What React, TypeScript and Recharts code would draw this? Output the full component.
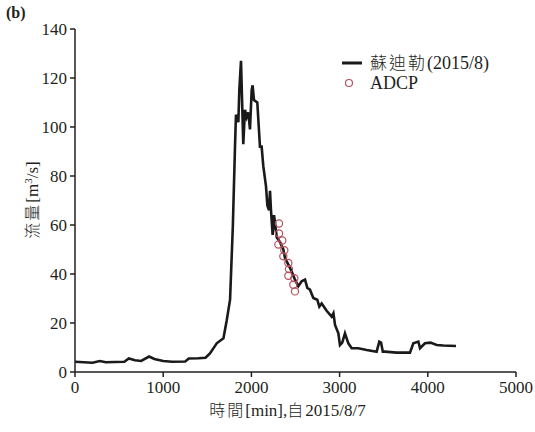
import { ComposedChart, Line, Scatter, XAxis, YAxis, Label } from 'recharts';

// 蘇迪勒 flow record (minutes since 2015/8/7, m3/s)
const flowMinutes = [
  0, 100, 200, 280, 350, 450, 560, 610, 680, 750, 840, 900, 1000, 1100, 1250, 1290, 1400, 1480,
  1530, 1607, 1683, 1720, 1758, 1790, 1814, 1825, 1852, 1863, 1882, 1901, 1908, 1927, 1946, 1965,
  1984, 2003, 2014, 2029, 2067, 2097, 2116, 2135, 2165, 2181, 2200, 2211, 2222, 2241, 2256, 2268,
  2287, 2324, 2362, 2381, 2419, 2457, 2494, 2532, 2570, 2608, 2634, 2664, 2702, 2747, 2770, 2797,
  2853, 2910, 2930, 2948, 2986, 3004, 3030, 3061, 3099, 3137, 3212, 3307, 3420, 3450, 3470, 3490,
  3515, 3647, 3798, 3836, 3893, 3912, 3968, 4030, 4101, 4176, 4320,
];
const flowValues = [
  4.2, 4.0, 3.8, 4.5, 4.0, 4.1, 4.2, 5.5, 4.8, 4.5, 6.3, 5.3, 4.5, 4.2, 4.3, 5.5, 5.6, 5.8,
  7.6, 11.7, 13.8, 21, 29.5, 60, 92, 105, 102, 115, 127, 102, 93, 107, 104, 106,
  99, 115, 117, 111, 110, 92, 92, 84, 76, 68, 66, 74, 66, 56, 64, 61,
  55, 53, 50, 46.5, 43.8, 41, 37.7, 35, 37, 37.7, 34.3, 33.6, 30.2, 29.5, 26.7, 28,
  25, 22.6, 24, 19.2, 15.8, 11, 12, 15.8, 11.7, 9.7, 9.7, 9, 8.3, 12.4, 12, 8.3,
  8.3, 7.9, 7.9, 11.7, 12.4, 9.7, 11.7, 12, 11, 10.8, 10.6,
];

// ADCP measurements
const adcpMinutes = [2313, 2313, 2350, 2306, 2373, 2362, 2419, 2426, 2419, 2487, 2475, 2494];
const adcpValues = [60.6, 56.5, 53.7, 52, 49.7, 47.2, 44.5, 42, 39.3, 38.3, 35.6, 32.9];

const xTicks = [0, 1000, 2000, 3000, 4000, 5000];
const yTicks = [0, 20, 40, 60, 80, 100, 120, 140];

const flowData = flowMinutes.map((t, i) => ({ t, q: flowValues[i] }));
const adcpData = adcpMinutes.map((t, i) => ({ t, q: adcpValues[i] }));

const SERIF = '"Liberation Serif", serif';
const CJK = '"Noto Sans CJK TC"';
const INK = '#231f20';
const ADCP_COLOR = '#b5505a';

const tickStyle = { fontFamily: SERIF, fontSize: 17, fill: INK };
const cjkSpan = { fontFamily: CJK, fontWeight: 300, letterSpacing: 2 };

function XTitle(props: any) {
  const { viewBox } = props;
  return (
    <text x={viewBox.x + viewBox.width / 2 - 8} y={416} textAnchor="middle" fontSize={17} fill={INK} style={{ fontFamily: SERIF }}>
      <tspan style={cjkSpan} fontSize={16}>時間</tspan>
      <tspan>[min],</tspan>
      <tspan style={cjkSpan} fontSize={16}>自</tspan>
      <tspan>2015/8/7</tspan>
    </text>
  );
}

function YTitle() {
  return (
    <text transform="translate(38,200) rotate(-90)" textAnchor="middle" fontSize={17} fill={INK} style={{ fontFamily: SERIF }}>
      <tspan style={cjkSpan} fontSize={16}>流量</tspan>
      <tspan>[m</tspan>
      <tspan baselineShift="super" fontSize={11}>3</tspan>
      <tspan>/s]</tspan>
    </text>
  );
}

export default function App() {
  return (
    <div style={{ position: 'absolute', left: 0, top: 0, width: 535, height: 432, background: '#fff', fontFamily: SERIF }}>
      <ComposedChart width={535} height={432} margin={{ top: 29, right: 19, left: 0, bottom: 0 }}>
        <XAxis
          xAxisId="b"
          dataKey="t"
          type="number"
          domain={[0, 5000]}
          ticks={xTicks}
          tick={tickStyle}
          tickSize={5}
          tickMargin={4}
          height={60}
          stroke={INK}
          strokeWidth={1.5}
          allowDataOverflow
        >
          <Label content={<XTitle />} />
        </XAxis>
        <XAxis xAxisId="top" orientation="top" type="number" domain={[0, 5000]} tick={false} tickLine={false} height={0} stroke={INK} strokeWidth={1.5} />
        <YAxis
          yAxisId="l"
          type="number"
          domain={[0, 140]}
          ticks={yTicks}
          tick={tickStyle}
          tickSize={5}
          tickMargin={3}
          width={75}
          stroke={INK}
          strokeWidth={1.5}
        >
          <Label content={<YTitle />} />
        </YAxis>
        <YAxis yAxisId="r" orientation="right" type="number" domain={[0, 140]} tick={false} tickLine={false} width={0} stroke={INK} strokeWidth={1.5} />
        <Line
          xAxisId="b"
          yAxisId="l"
          data={flowData}
          dataKey="q"
          type="linear"
          stroke="#1a1a1a"
          strokeWidth={2.6}
          dot={false}
          isAnimationActive={false}
        />
        <Scatter
          xAxisId="b"
          yAxisId="l"
          data={adcpData}
          dataKey="q"
          isAnimationActive={false}
          shape={(p: any) => <circle cx={p.cx} cy={p.cy} r={3.6} fill="none" stroke={ADCP_COLOR} strokeWidth={1.2} />}
        />
      </ComposedChart>
      <div style={{ position: 'absolute', left: 6, top: 4, fontWeight: 'bold', fontSize: 16, color: INK }}>(b)</div>
      <div style={{ position: 'absolute', left: 338, top: 52, fontSize: 18, color: INK, lineHeight: '20px' }}>
        <div style={{ display: 'flex', alignItems: 'center' }}>
          <svg width={32} height={20}>
            <line x1={4} y1={10} x2={24} y2={10} stroke="#1a1a1a" strokeWidth={3} />
          </svg>
          <span>
            <span style={{ ...cjkSpan, fontSize: 17 }}>蘇迪勒</span>(2015/8)
          </span>
        </div>
        <div style={{ display: 'flex', alignItems: 'center' }}>
          <svg width={32} height={20}>
            <circle cx={11} cy={10} r={3.5} fill="none" stroke={ADCP_COLOR} strokeWidth={1.2} />
          </svg>
          <span>ADCP</span>
        </div>
      </div>
    </div>
  );
}
